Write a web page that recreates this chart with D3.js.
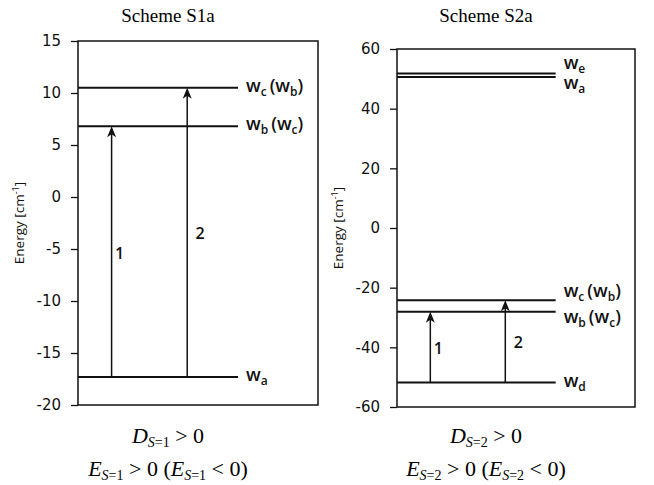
<!DOCTYPE html>
<html>
<head>
<meta charset="utf-8">
<script src="https://cdn.jsdelivr.net/npm/d3@7"></script>
<style>
  body { margin: 0; background: #fff; }
  svg { display: block; }
</style>
</head>
<body>
<div id="chart"></div>
<script>
// Scheme S1a: energy levels (cm-1)
const s1Names = ["a", "b", "c"];
const s1Energies = [-17.3, 6.8, 10.5];
const s1Alt = ["", "c", "b"];
const s1Ticks = [-20, -15, -10, -5, 0, 5, 10, 15];
const s1Transitions = [["a", "b", "1"], ["a", "c", "2"]];

// Scheme S2a
const s2Names = ["e", "a", "c", "b", "d"];
const s2Energies = [51.8, 50.6, -24.2, -28.1, -51.8];
const s2Alt = ["", "", "b", "c", ""];
const s2Ticks = [-60, -40, -20, 0, 20, 40, 60];
const s2Transitions = [["d", "b", "1"], ["d", "c", "2"]];

const w = 654, h = 485;

const svg = d3.select("#chart").append("svg")
  .attr("width", w)
  .attr("height", h);

function drawPanel(p) {
  const y = d3.scaleLinear()
    .domain(d3.extent(p.ticks))
    .range([p.y1, p.y0]);

  const x = d3.scaleLinear()
    .domain([0, 1])
    .range([p.x0, p.x1]);

  const g = svg.append("g");
  const cx = (p.x0 + p.x1) / 2 - 30;

  // title
  g.append("text")
    .attr("x", cx)
    .attr("y", 22)
    .attr("text-anchor", "middle")
    .style("font-family", "'Liberation Serif', serif")
    .style("font-size", "19px")
    .text(p.title);

  // axis
  const axis = d3.axisLeft(y)
    .tickValues(p.ticks)
    .tickFormat(d => String(d))
    .tickSize(7)
    .tickSizeOuter(0)
    .tickPadding(10);
  const ax = g.append("g")
    .attr("transform", "translate(" + p.x0 + ",0)")
    .call(axis);
  ax.select(".domain").remove();
  ax.selectAll(".tick line").attr("stroke", "#111").attr("stroke-width", 1.3);
  ax.selectAll(".tick text")
    .style("font-family", "'DejaVu Sans', sans-serif")
    .style("font-size", "15px")
    .attr("fill", "#111");

  // box
  g.append("rect")
    .attr("x", p.x0)
    .attr("y", p.y0)
    .attr("width", p.x1 - p.x0)
    .attr("height", p.y1 - p.y0)
    .attr("fill", "none")
    .attr("stroke", "#111")
    .attr("stroke-width", 1.5);

  // axis title
  const t = g.append("text")
    .attr("transform", "translate(" + (p.x0 - 54) + "," + ((p.y0 + p.y1) / 2) + ") rotate(-90)")
    .attr("text-anchor", "middle")
    .style("font-family", "'Open Sans', sans-serif")
    .style("font-size", "13.5px")
    .attr("fill", "#111");
  t.append("tspan").text("Energy [cm");
  t.append("tspan").attr("dy", -5).style("font-size", "9px").text("-1");
  t.append("tspan").attr("dy", 5).text("]");

  const levels = p.names.map((n, i) => ({ name: n, e: p.energies[i], alt: p.alt[i] }));
  const byName = {};
  levels.forEach(d => byName[d.name] = d);

  // level lines
  const lineEnd = 2 / 3;
  g.selectAll(".level")
    .data(levels)
    .enter()
    .append("line")
    .attr("class", "level")
    .attr("x1", x(0))
    .attr("x2", x(lineEnd))
    .attr("y1", d => y(d.e))
    .attr("y2", d => y(d.e))
    .attr("stroke", "#111")
    .attr("stroke-width", 2);

  // label positions, pushed apart when levels are close
  const lab = levels.map(d => ({ d: d, ly: y(d.e), gap: d.alt ? 26 : 20 }))
    .sort((a, b) => a.ly - b.ly);
  for (let k = 0; k < 20; k++) {
    for (let i = 1; i < lab.length; i++) {
      const need = Math.max(lab[i].gap, lab[i - 1].gap);
      const diff = lab[i].ly - lab[i - 1].ly;
      if (diff < need) {
        const push = (need - diff) / 2;
        lab[i].ly += push;
        lab[i - 1].ly -= push;
      }
    }
  }

  lab.forEach(l => {
    const tx = g.append("text")
      .attr("x", x(lineEnd) + 8)
      .attr("y", l.ly + 4)
      .style("font-family", "'Open Sans', sans-serif")
      .style("font-size", "18px")
      .style("font-weight", "600")
      .attr("fill", "#111");
    tx.append("tspan").text("w");
    tx.append("tspan").attr("dy", 4).style("font-size", "12px").text(l.d.name);
    if (l.d.alt) {
      tx.append("tspan").attr("dy", -4).attr("dx", 3).text("(w");
      tx.append("tspan").attr("dy", 4).style("font-size", "12px").text(l.d.alt);
      tx.append("tspan").attr("dy", -4).text(")");
    }
  });

  // transitions
  const ax2 = d3.scalePoint()
    .domain(p.transitions.map(d => d[2]))
    .range([x(0.14), x(0.455)]);

  const tr = g.selectAll(".tr")
    .data(p.transitions)
    .enter()
    .append("g")
    .attr("class", "tr");

  tr.append("line")
    .attr("x1", d => ax2(d[2]))
    .attr("x2", d => ax2(d[2]))
    .attr("y1", d => y(byName[d[0]].e))
    .attr("y2", d => y(byName[d[1]].e) + 6)
    .attr("stroke", "#111")
    .attr("stroke-width", 1.5);

  tr.append("path")
    .attr("d", "M0,0 L-4.5,11 L0,8 L4.5,11 Z")
    .attr("transform", d => "translate(" + ax2(d[2]) + "," + y(byName[d[1]].e) + ")")
    .attr("fill", "#111");

  tr.append("text")
    .attr("x", d => ax2(d[2]) + (d[2] === "1" ? 8 : 13))
    .attr("y", d => (y(byName[d[0]].e) + y(byName[d[1]].e)) / 2 + 7)
    .attr("text-anchor", "middle")
    .style("font-family", "'Open Sans', sans-serif")
    .style("font-size", "16px")
    .style("font-weight", "600")
    .attr("fill", "#111")
    .text(d => d[2]);

  // formulas
  function sub(txt, letter) {
    txt.append("tspan").style("font-style", "italic").text(letter);
    txt.append("tspan").attr("dy", 4).style("font-size", "14px").style("font-style", "italic").text("S");
    txt.append("tspan").style("font-size", "14px").text("=" + p.s);
  }
  const f1 = g.append("text")
    .attr("x", cx)
    .attr("y", 443)
    .attr("text-anchor", "middle")
    .style("font-family", "'Liberation Serif', serif")
    .style("font-size", "22px");
  sub(f1, "D");
  f1.append("tspan").attr("dy", -4).text(" > 0");

  const f2 = g.append("text")
    .attr("x", cx)
    .attr("y", 476)
    .attr("text-anchor", "middle")
    .style("font-family", "'Liberation Serif', serif")
    .style("font-size", "22px");
  sub(f2, "E");
  f2.append("tspan").attr("dy", -4).text(" > 0 (");
  sub(f2, "E");
  f2.append("tspan").attr("dy", -4).text(" < 0)");
}

drawPanel({
  title: "Scheme S1a", s: "1",
  names: s1Names, energies: s1Energies, alt: s1Alt, ticks: s1Ticks, transitions: s1Transitions,
  x0: 78, x1: 318, y0: 41, y1: 405
});

drawPanel({
  title: "Scheme S2a", s: "2",
  names: s2Names, energies: s2Energies, alt: s2Alt, ticks: s2Ticks, transitions: s2Transitions,
  x0: 397, x1: 635, y0: 49, y1: 407
});
</script>
</body>
</html>
